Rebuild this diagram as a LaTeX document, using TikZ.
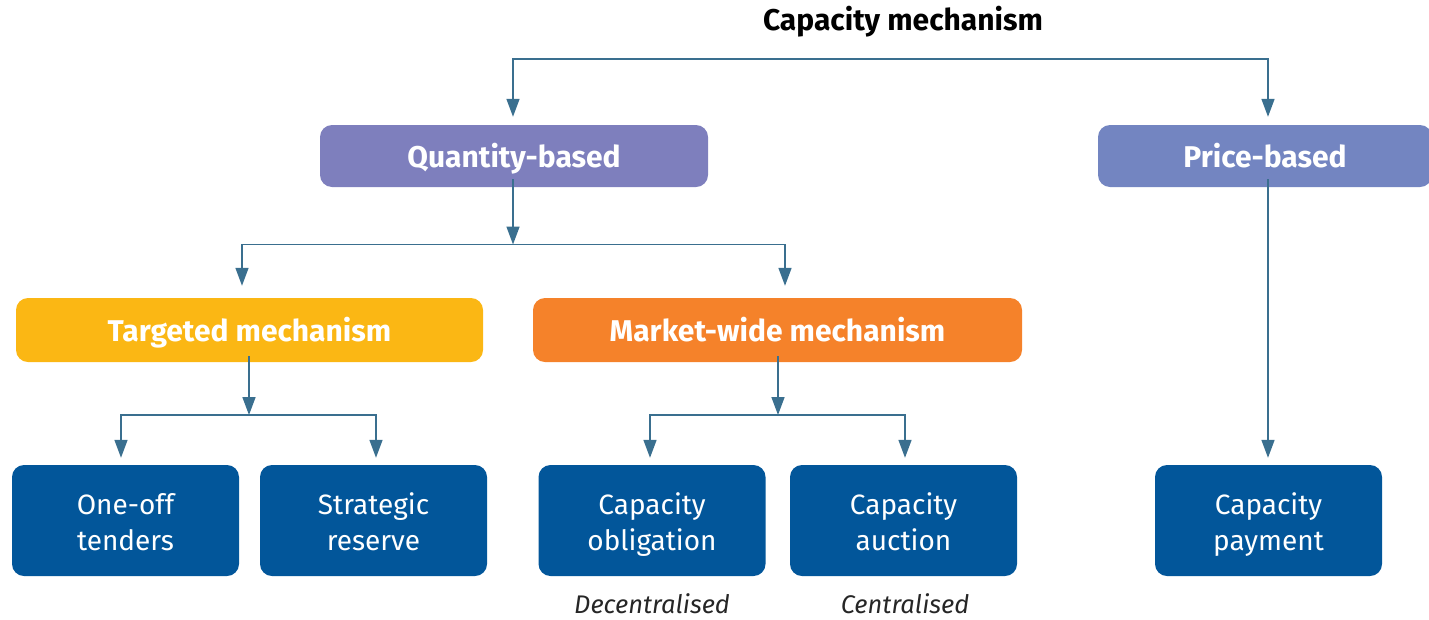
\documentclass[tikz,border=0pt]{standalone}
\usepackage{fontspec}
\setmainfont{Fira Sans}
\usetikzlibrary{arrows.meta,calc}
\definecolor{conn}{HTML}{3A6F8F}
\definecolor{qcol}{HTML}{7E7FBD}
\definecolor{pcol}{HTML}{7385C1}
\definecolor{tcol}{HTML}{FBB714}
\definecolor{mcol}{HTML}{F5822A}
\definecolor{dcol}{HTML}{02569A}
\newcommand{\fststrut}{\rule[-8pt]{0pt}{39pt}}
\newcommand{\sndstrut}{\rule[-8pt]{0pt}{33pt}}
\newcommand{\twolines}[2]{\fststrut #1\\\sndstrut #2}
\begin{document}
\begin{tikzpicture}[x=1pt,y=-1pt,
  box/.style={rounded corners=12pt,text=white,inner sep=0pt,align=center},
  headbox/.style={box,minimum height=62pt,text height=22pt,text depth=0pt,font=\fontsize{30}{34}\selectfont\bfseries},
  leafbox/.style={box,fill=dcol,minimum width=227pt,minimum height=111pt,font=\fontsize{28}{36}\selectfont},
  arr/.style={draw=conn,line width=1.6pt,-{Triangle[width=13pt,length=18pt]}},
  note/.style={font=\fontsize{25.5}{30}\selectfont\itshape,text=black!85}
]
\useasboundingbox (0,0) rectangle (1429,619);
% title
\node[font=\fontsize{30}{34}\selectfont\bfseries] (title) at (903,22) {Capacity mechanism};
% level 1
\node[headbox,fill=qcol,minimum width=388pt] (qb) at (514,156) {Quantity-based};
\node[headbox,fill=pcol,minimum width=334pt] (pb) at (1265,156) {Price-based};
% level 2
\node[headbox,fill=tcol,minimum width=467pt,minimum height=64pt] (tm) at (249.5,330) {Targeted mechanism};
\node[headbox,fill=mcol,minimum width=489pt,minimum height=64pt] (mw) at (777.5,330) {Market-wide mechanism};
% leaves
\node[leafbox] (oo) at (125.5,520.5) {\twolines{One-off}{tenders}};
\node[leafbox] (sr) at (373.5,520.5) {\twolines{Strategic}{reserve}};
\node[leafbox] (co) at (652,520.5) {\twolines{Capacity}{obligation}};
\node[leafbox] (ca) at (903.5,520.5) {\twolines{Capacity}{auction}};
\node[leafbox] (cp) at (1268.5,520.5) {\twolines{Capacity}{payment}};
% notes
\node[note] (dec) at (652,604) {Decentralised};
\node[note] (cen) at (905,604) {Centralised};
% junctions
\coordinate (j0) at (890,59);
\coordinate (j1) at (513,244.5);
\coordinate (j2) at (249,415);
\coordinate (j3) at (778,415);
\coordinate (pc) at (1268,0);
% connectors top
\draw[arr,shorten >=8pt] (j0) -| ([xshift=-1pt]qb.north);
\draw[arr,shorten >=8pt] (j0) -| (pc |- pb.north);
% quantity -> split
\draw[arr] ([yshift=8pt]j1 |- qb.south) -- (j1);
\draw[arr,shorten >=12pt] (j1) -| ([xshift=-7.5pt]tm.north);
\draw[arr,shorten >=12pt] (j1) -| ([xshift=7.5pt]mw.north);
% targeted -> leaves
\draw[arr] ([yshift=6pt]j2 |- tm.south) -- (j2);
\draw[arr,shorten >=7pt] (j2) -| ([xshift=-4.5pt]oo.north);
\draw[arr,shorten >=7pt] (j2) -| ([xshift=2.5pt]sr.north);
% market-wide -> leaves
\draw[arr] ([yshift=6pt]j3 |- mw.south) -- (j3);
\draw[arr,shorten >=7pt] (j3) -| ([xshift=-2pt]co.north);
\draw[arr,shorten >=7pt] (j3) -| ([xshift=1.5pt]ca.north);
% price -> payment
\draw[arr,shorten >=7pt] ([yshift=8pt]pc |- pb.south) -- (pc |- cp.north);
\end{tikzpicture}
\end{document}
